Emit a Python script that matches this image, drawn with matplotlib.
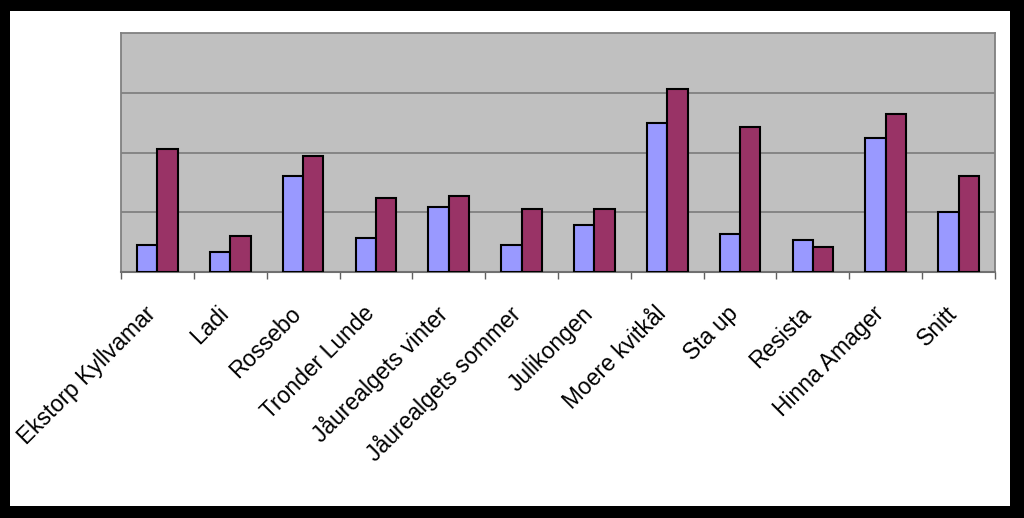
import numpy as np
import matplotlib.pyplot as plt
from matplotlib.patches import Rectangle

categories = ["Ekstorp Kyllvamar", "Ladi", "Rossebo", "Tronder Lunde",
              "Jåurealgets vinter", "Jåurealgets sommer", "Julikongen",
              "Moere kvitkål", "Sta up", "Resista", "Hinna Amager", "Snitt"]
serie1 = [0.45, 0.33, 1.61, 0.57, 1.09, 0.45, 0.79, 2.50, 0.63, 0.53, 2.24, 1.01]
serie2 = [2.06, 0.60, 1.94, 1.24, 1.27, 1.05, 1.05, 3.06, 2.43, 0.42, 2.65, 1.61]

W, H = 1024, 518
fig = plt.figure(figsize=(W / 100, H / 100), dpi=100)
fig.patch.set_facecolor('black')
# white inner page
fig.patches.append(Rectangle((10 / W, 1 - 506 / H), 1000 / W, 495 / H,
                             transform=fig.transFigure, facecolor='white',
                             edgecolor='none', zorder=-10))

ax = fig.add_axes([121 / W, 1 - 272 / H, 874 / W, 239 / H])
ax.set_facecolor('#c0c0c0')
x = np.arange(len(categories))
bw = 0.28
ax.bar(x - bw / 2, serie1, bw, color='#9999ff', edgecolor='black', linewidth=1.5, zorder=3)
ax.bar(x + bw / 2, serie2, bw, color='#993366', edgecolor='black', linewidth=1.5, zorder=3)

ax.set_xlim(-0.5, len(categories) - 0.5)
ax.set_ylim(0, 4)
ax.set_yticks([1, 2, 3])
ax.yaxis.grid(True, color='#808080', linewidth=1.3, zorder=1)
ax.tick_params(axis='y', length=0, labelleft=False)
ax.set_xticks(np.arange(-0.5, len(categories), 1.0))
ax.tick_params(axis='x', length=5, width=1, color='#606060', labelbottom=False)
for side in ['top', 'left', 'right']:
    ax.spines[side].set_color('#808080')
    ax.spines[side].set_linewidth(1.3)
ax.spines['bottom'].set_color('#707070')
ax.spines['bottom'].set_linewidth(1.5)

tr = ax.get_xaxis_transform()
for xi, lab in zip(x, categories):
    ax.text(xi - 0.07, -0.16, lab, transform=tr, rotation=45, rotation_mode='anchor',
            ha='right', va='center', fontsize=16.5, family='Liberation Sans',
            color='black')

fig.savefig('out.png', dpi=100, facecolor=fig.get_facecolor())
